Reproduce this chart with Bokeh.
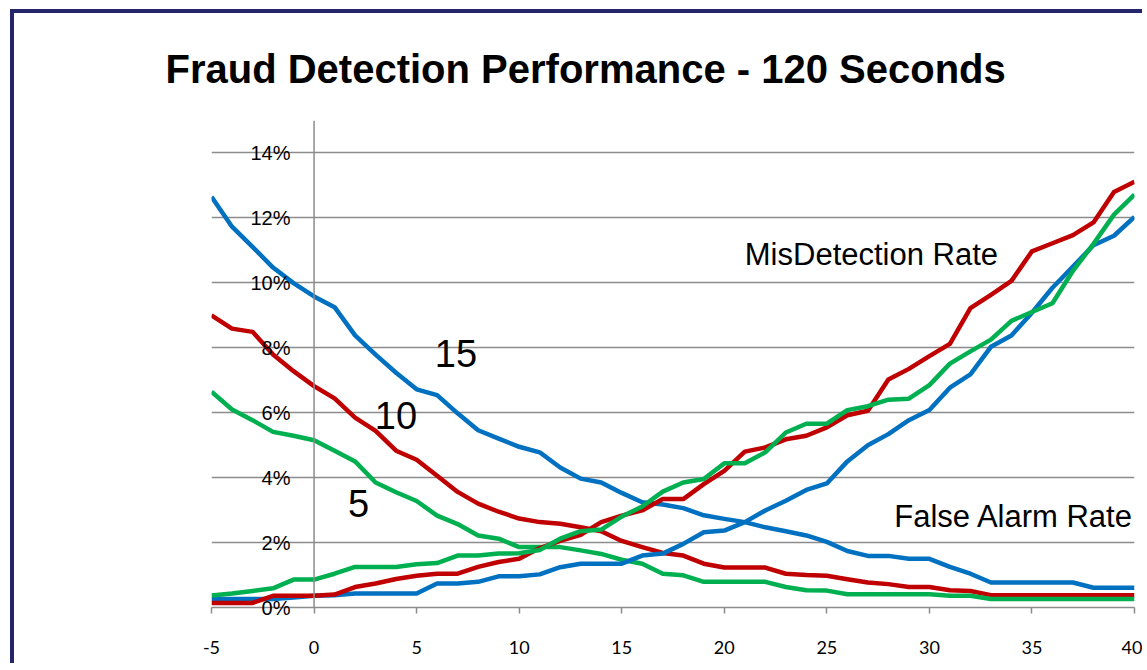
from bokeh.plotting import figure
from bokeh.models import FixedTicker, Span, Label
from bokeh.embed import file_html
from bokeh.resources import INLINE

# ---------------- data ----------------
x_values = list(range(-5, 41))

# False alarm rate (%), threshold groups 15 / 10 / 5
false_alarm_15 = [12.65, 11.73, 11.11, 10.47, 9.99, 9.58, 9.25, 8.38, 7.79, 7.23,
                  6.72, 6.54, 5.98, 5.46, 5.20, 4.95, 4.78, 4.31, 3.97, 3.85,
                  3.53, 3.24, 3.17, 3.06, 2.84, 2.73, 2.63, 2.47, 2.35, 2.22,
                  2.02, 1.74, 1.59, 1.59, 1.50, 1.50, 1.25, 1.04, 0.77, 0.77,
                  0.77, 0.77, 0.77, 0.61, 0.61, 0.61]
false_alarm_10 = [9.00, 8.59, 8.49, 7.79, 7.28, 6.82, 6.44, 5.85, 5.44, 4.83,
                  4.55, 4.06, 3.56, 3.20, 2.95, 2.74, 2.63, 2.58, 2.47, 2.35,
                  2.05, 1.86, 1.68, 1.60, 1.35, 1.23, 1.23, 1.23, 1.04, 1.00,
                  0.98, 0.87, 0.77, 0.72, 0.63, 0.63, 0.53, 0.51, 0.38, 0.38,
                  0.38, 0.38, 0.38, 0.38, 0.38, 0.38]
false_alarm_5 = [6.65, 6.10, 5.77, 5.41, 5.29, 5.15, 4.83, 4.50, 3.85, 3.55,
                 3.28, 2.83, 2.57, 2.22, 2.12, 1.86, 1.86, 1.86, 1.76, 1.65,
                 1.47, 1.35, 1.04, 0.99, 0.79, 0.79, 0.79, 0.79, 0.63, 0.53,
                 0.52, 0.41, 0.41, 0.41, 0.41, 0.41, 0.36, 0.36, 0.26, 0.26,
                 0.26, 0.26, 0.26, 0.26, 0.26, 0.26]

# MisDetection rate (%)
misdetect_15 = [0.26, 0.26, 0.26, 0.26, 0.31, 0.36, 0.38, 0.43, 0.43, 0.43,
                0.43, 0.74, 0.74, 0.79, 0.96, 0.96, 1.02, 1.24, 1.35, 1.35,
                1.35, 1.60, 1.66, 1.96, 2.32, 2.37, 2.63, 2.99, 3.29, 3.62,
                3.82, 4.50, 5.00, 5.34, 5.77, 6.08, 6.77, 7.18, 8.03, 8.38,
                9.08, 9.85, 10.50, 11.16, 11.45, 12.03]
misdetect_10 = [0.14, 0.14, 0.14, 0.36, 0.36, 0.36, 0.40, 0.63, 0.74, 0.88,
                0.98, 1.04, 1.04, 1.25, 1.40, 1.50, 1.83, 2.05, 2.24, 2.63,
                2.83, 2.99, 3.34, 3.34, 3.80, 4.21, 4.80, 4.93, 5.18, 5.29,
                5.55, 5.92, 6.06, 7.02, 7.35, 7.74, 8.12, 9.22, 9.63, 10.06,
                10.97, 11.22, 11.47, 11.86, 12.80, 13.11]
misdetect_5 = [0.37, 0.43, 0.51, 0.59, 0.86, 0.86, 1.04, 1.25, 1.25, 1.25,
               1.33, 1.37, 1.60, 1.60, 1.66, 1.67, 1.77, 2.12, 2.35, 2.40,
               2.80, 3.11, 3.57, 3.85, 3.96, 4.44, 4.44, 4.78, 5.39, 5.66,
               5.66, 6.08, 6.20, 6.40, 6.43, 6.85, 7.51, 7.89, 8.25, 8.83,
               9.10, 9.37, 10.37, 11.20, 12.10, 12.72]

x_ticks = [-5, 0, 5, 10, 15, 20, 25, 30, 35, 40]
x_tick_labels = ["-5", "0", "5", "10", "15", "20", "25", "30", "35", "40"]
y_ticks = [0, 2, 4, 6, 8, 10, 12, 14]
y_tick_labels = ["0%", "2%", "4%", "6%", "8%", "10%", "12%", "14%"]

title_text = "Fraud Detection Performance - 120 Seconds"

BLUE = "#0070C0"
RED = "#C00000"
GREEN = "#00B050"
GRID = "#8C8C8C"
NAVY = "#25256B"

# ---------------- figure ----------------
p = figure(width=1132, height=654, x_range=(-5, 40), y_range=(0, 15),
           output_backend="svg", toolbar_location=None,
           min_border_left=197, min_border_right=12, min_border_top=107,
           min_border_bottom=60)
p.outline_line_color = None
p.background_fill_color = "white"
p.border_fill_color = "white"
p.styles = {"margin-left": "10px", "margin-top": "9px",
            "border-left": f"4px solid {NAVY}", "border-top": f"4px solid {NAVY}"}

# title
p.title.text = title_text
p.title.align = "left"
p.title.offset = -46
p.title.standoff = 59
p.title.text_font = "Liberation Sans"
p.title.text_font_size = "40px"
p.title.text_font_style = "bold"
p.title.text_color = "black"

# x axis
p.xgrid.grid_line_color = None
ax = p.xaxis[0]
ax.ticker = FixedTicker(ticks=x_ticks)
ax.major_label_overrides = {t: l for t, l in zip(x_ticks, x_tick_labels)}
ax.axis_line_color = GRID
ax.axis_line_width = 1.5
ax.major_tick_line_color = GRID
ax.major_tick_line_width = 1.5
ax.major_tick_in = 0
ax.major_tick_out = 6
ax.minor_tick_line_color = None
ax.major_label_standoff = 27
ax.major_label_text_font = "Lato"
ax.major_label_text_font_size = "18px"
ax.major_label_text_color = "black"

# y axis: labels drawn just left of the x=0 crossing line
ay = p.yaxis[0]
ay.ticker = FixedTicker(ticks=y_ticks)
ay.major_label_overrides = {t: l for t, l in zip(y_ticks, y_tick_labels)}
ay.axis_line_color = None
ay.major_tick_line_color = None
ay.minor_tick_line_color = None
ay.major_tick_in = 0
ay.major_tick_out = 0
ay.major_label_standoff = -79
ay.major_label_text_font = "Liberation Sans"
ay.major_label_text_font_size = "20px"
ay.major_label_text_color = "black"

p.ygrid.grid_line_color = GRID
p.ygrid.grid_line_width = 1.5

p.add_layout(Span(location=0, dimension="height", line_color=GRID, line_width=1.5))

series = [
    (false_alarm_15, BLUE), (false_alarm_10, RED), (false_alarm_5, GREEN),
    (misdetect_15, BLUE), (misdetect_10, RED), (misdetect_5, GREEN),
]
for ys, c in series:
    p.line(x_values, ys, line_color=c, line_width=4.5, line_join="round")

def add_label(x, y, text, size, align="left"):
    p.add_layout(Label(x=x, y=y, text=text, text_align=align, text_baseline="middle",
                       text_font="Liberation Sans", text_font_size=size,
                       text_color="black"))

add_label(5.89, 7.82, "15", "38px")
add_label(2.96, 5.91, "10", "38px")
add_label(1.65, 3.20, "5", "38px")
add_label(21.0, 10.87, "MisDetection Rate", "31px")
add_label(39.96, 2.80, "False Alarm Rate", "31px", align="right")

open("out.html", "w").write(file_html(p, INLINE))
